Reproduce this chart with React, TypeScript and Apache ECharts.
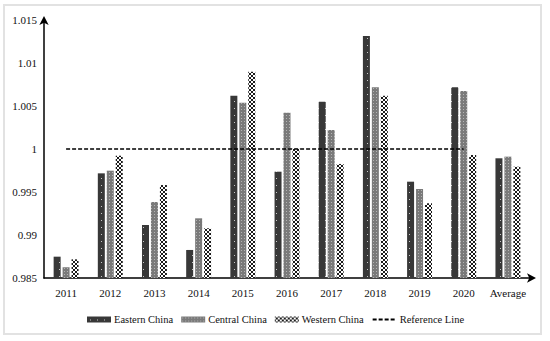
import React, { useEffect, useRef } from "react";
import * as echarts from "echarts";

const categories = ["2011", "2012", "2013", "2014", "2015", "2016", "2017", "2018", "2019", "2020", "Average"];
const easternChina = [0.98748, 0.99717, 0.99116, 0.98826, 1.0062, 0.99736, 1.0055, 1.01314, 0.9962, 1.00717, 0.99892];
const centralChina = [0.98624, 0.99748, 0.99384, 0.99194, 1.00538, 1.00422, 1.00221, 1.00717, 0.99535, 1.00674, 0.99911];
const westernChina = [0.98717, 0.99922, 0.99581, 0.99078, 1.00899, 1.00003, 0.99826, 1.0062, 0.99369, 0.9993, 0.99794];
const referenceLine = [1, 1, 1, 1, 1, 1, 1, 1, 1, 1, null];

const FONT = "Liberation Serif";

function makePattern(w: number, h: number, draw: (ctx: CanvasRenderingContext2D) => void) {
  const c = document.createElement("canvas");
  c.width = w;
  c.height = h;
  const ctx = c.getContext("2d")!;
  draw(ctx);
  return { image: c, repeat: "repeat" } as any;
}

export default function App() {
  const ref = useRef<HTMLDivElement>(null);
  useEffect(() => {
    if (!ref.current) return;
    const chart = echarts.init(ref.current, null, { renderer: "svg" });

    const darkPat = makePattern(7, 7, (ctx) => {
      ctx.fillStyle = "#383838";
      ctx.fillRect(0, 0, 7, 7);
      ctx.fillStyle = "#c8c8c8";
      ctx.fillRect(3, 3, 1, 1);
    });
    const greyPat = makePattern(3, 3, (ctx) => {
      ctx.fillStyle = "#7a7a7a";
      ctx.fillRect(0, 0, 3, 3);
      ctx.fillStyle = "#b4b4b4";
      ctx.fillRect(1, 1, 1, 1);
    });
    const crossPat = makePattern(4, 4, (ctx) => {
      ctx.fillStyle = "#ffffff";
      ctx.fillRect(0, 0, 4, 4);
      ctx.fillStyle = "#1a1a1a";
      for (let i = 0; i < 4; i++) {
        ctx.fillRect(i, i, 1, 1);
        ctx.fillRect(3 - i, i, 1, 1);
      }
    });

    chart.setOption({
      animation: false,
      backgroundColor: "#ffffff",
      textStyle: { fontFamily: FONT },
      graphic: [
        {
          type: "rect",
          shape: { x: 4, y: 5, width: 537, height: 329 },
          style: { fill: "none", stroke: "#e2e2e2", lineWidth: 2 },
          silent: true,
        },
      ],
      grid: { left: 44, right: 20, top: 20, bottom: 63, containLabel: false },
      legend: {
        left: 82,
        top: 309,
        itemWidth: 24,
        itemHeight: 6,
        itemGap: 8,
        textStyle: { fontFamily: FONT, fontSize: 10.5, color: "#111", padding: [0, 0, 0, -2] },
        data: [
          { name: "Eastern China", icon: "rect" },
          { name: "Central China", icon: "rect" },
          { name: "Western China", icon: "rect" },
          { name: "Reference Line", itemStyle: { color: "rgba(0,0,0,0)", borderWidth: 0 } },
        ],
      },
      xAxis: {
        type: "category",
        data: categories,
        axisLine: {
          show: true,
          lineStyle: { color: "#000", width: 1.5 },
          symbol: ["none", "arrow"],
          symbolSize: [7, 9],
          symbolOffset: [0, 6],
        },
        axisTick: { show: false },
        axisLabel: { fontFamily: FONT, fontSize: 11, color: "#111", margin: 9, interval: 0 },
        splitLine: { show: false },
      },
      yAxis: {
        type: "value",
        min: 0.985,
        max: 1.015,
        interval: 0.005,
        axisLine: {
          show: true,
          lineStyle: { color: "#000", width: 1.5 },
          symbol: ["none", "arrow"],
          symbolSize: [7, 9],
          symbolOffset: [0, 4],
        },
        axisTick: { show: false },
        splitLine: { show: false },
        axisLabel: {
          fontFamily: FONT,
          fontSize: 11,
          color: "#111",
          margin: 7,
          formatter: (v: number) => String(parseFloat(v.toFixed(3))),
        },
      },
      series: [
        {
          name: "Eastern China",
          type: "bar",
          data: easternChina,
          barWidth: 7,
          barGap: "28%",
          itemStyle: { color: darkPat },
        },
        {
          name: "Central China",
          type: "bar",
          data: centralChina,
          barWidth: 7,
          barGap: "28%",
          itemStyle: { color: greyPat },
        },
        {
          name: "Western China",
          type: "bar",
          data: westernChina,
          barWidth: 7,
          barGap: "28%",
          itemStyle: { color: crossPat },
        },
        {
          name: "Reference Line",
          type: "line",
          data: referenceLine,
          symbol: "none",
          z: 5,
          lineStyle: { color: "#000", width: 1.5, type: [4, 2] },
          itemStyle: { color: "#000" },
        },
      ],
    });
    return () => chart.dispose();
  }, []);
  return <div ref={ref} style={{ position: "fixed", left: 0, top: 0, width: 550, height: 341 }} />;
}
